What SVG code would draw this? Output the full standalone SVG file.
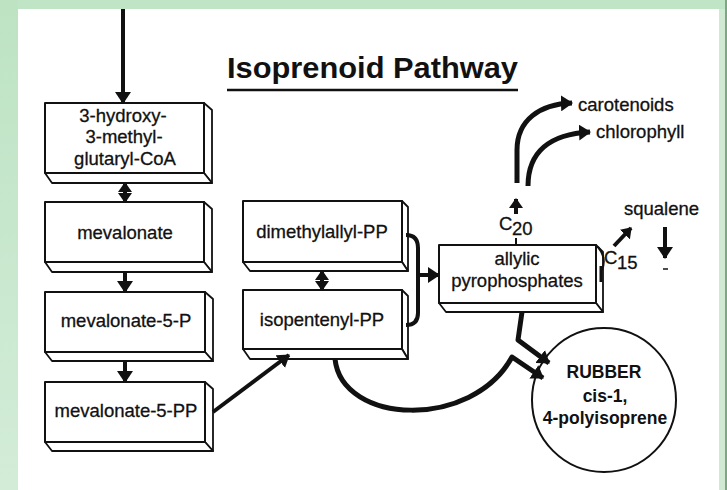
<svg xmlns="http://www.w3.org/2000/svg" width="727" height="490" viewBox="0 0 727 490">
<defs>
<linearGradient id="lg" x1="0" y1="0" x2="0" y2="1">
<stop offset="0" stop-color="#bde3c3"/>
<stop offset="1" stop-color="#d3ecd8"/>
</linearGradient>
<marker id="ah" viewBox="0 0 12 16" refX="11" refY="8" markerWidth="12" markerHeight="16" markerUnits="userSpaceOnUse" orient="auto-start-reverse">
<path d="M0,0 L12,8 L0,16 z" fill="#111"/>
</marker>
<marker id="as" viewBox="0 0 10 14" refX="9" refY="7" markerWidth="10" markerHeight="14" markerUnits="userSpaceOnUse" orient="auto-start-reverse">
<path d="M0,0 L10,7 L0,14 z" fill="#111"/>
</marker>
</defs>
<style>
.bf{fill:#fff;stroke:#111;stroke-width:2;stroke-linejoin:round}
.bs{fill:#fff;stroke:#111;stroke-width:1.8;stroke-linejoin:round}
.t{font-family:"Liberation Sans",Arial,sans-serif;font-size:18.5px;fill:#111;stroke:#111;stroke-width:0.3;text-anchor:middle}
.tl{font-family:"Liberation Sans",Arial,sans-serif;font-size:18.5px;fill:#111;stroke:#111;stroke-width:0.3}
.tb{font-family:"Liberation Sans",Arial,sans-serif;font-size:17.5px;font-weight:bold;fill:#111;text-anchor:middle}
.c{fill:none;stroke:#111;stroke-width:4;stroke-linecap:butt;stroke-linejoin:round}
.cw{fill:none;stroke:#111;stroke-width:5;stroke-linecap:butt;stroke-linejoin:round}
</style>
<!-- background frame -->
<rect x="0" y="0" width="727" height="490" fill="#c0e4c6"/>
<rect x="0" y="0" width="18" height="490" fill="url(#lg)"/>
<rect x="719" y="9" width="6" height="481" fill="#cfe9d3"/>
<rect x="725" y="0" width="2" height="490" fill="#7ea684"/>
<rect x="18" y="9" width="701" height="481" fill="#fff"/>

<!-- title -->
<g id="title">
<text x="227" y="78" font-family="'Liberation Sans',Arial,sans-serif" font-size="29" font-weight="bold" fill="#111" textLength="291" lengthAdjust="spacingAndGlyphs">Isoprenoid Pathway</text>
<line x1="227" y1="90" x2="518" y2="90" stroke="#111" stroke-width="2.5"/>
</g>

<!-- nodes -->
<g id="hmgcoa">
<polygon class="bs" points="204,103 212,110 212,183 204,173"/>
<polygon class="bs" points="45,173 204,173 212,183 52,183"/>
<rect class="bf" x="45" y="103" width="159" height="70"/>
<text class="t" x="123" y="122">3-hydroxy-</text>
<text class="t" x="124" y="143">3-methyl-</text>
<text class="t" x="125" y="165">glutaryl-CoA</text>
</g>
<g id="mevalonate">
<polygon class="bs" points="204,202 212,209 212,272 204,262"/>
<polygon class="bs" points="45,262 204,262 212,272 52,272"/>
<rect class="bf" x="45" y="202" width="159" height="60"/>
<text class="t" x="125" y="239">mevalonate</text>
</g>
<g id="mevalonate5p">
<polygon class="bs" points="205,292 213,299 213,361 205,352"/>
<polygon class="bs" points="45,352 205,352 213,361 52,361"/>
<rect class="bf" x="45" y="292" width="160" height="60"/>
<text class="t" x="126" y="327">mevalonate-5-P</text>
</g>
<g id="mevalonate5pp">
<polygon class="bs" points="205,382 213,389 213,451 205,442"/>
<polygon class="bs" points="45,442 205,442 213,451 52,451"/>
<rect class="bf" x="45" y="382" width="160" height="60"/>
<text class="t" x="126" y="417">mevalonate-5-PP</text>
</g>
<g id="dimethylallylpp">
<polygon class="bs" points="402,201 408,207 408,271 402,262"/>
<polygon class="bs" points="243,262 402,262 408,271 250,271"/>
<rect class="bf" x="243" y="201" width="159" height="61"/>
<text class="t" x="322" y="238">dimethylallyl-PP</text>
</g>
<g id="isopentenylpp">
<polygon class="bs" points="402,290 408,296 408,359 402,349"/>
<polygon class="bs" points="243,349 402,349 408,359 250,359"/>
<rect class="bf" x="243" y="290" width="159" height="59"/>
<text class="t" x="322" y="326">isopentenyl-PP</text>
</g>
<g id="allylic">
<polygon class="bs" points="596,245 603,252 603,312 596,303"/>
<polygon class="bs" points="439,303 596,303 603,312 446,312"/>
<rect class="bf" x="439" y="245" width="157" height="58"/>
<text class="t" x="517" y="265">allylic</text>
<text class="t" x="517" y="287">pyrophosphates</text>
</g>
<g id="rubber">
<circle cx="604" cy="400" r="72" fill="#fff" stroke="#111" stroke-width="2"/>
<text class="tb" x="604" y="378">RUBBER</text>
<text class="tb" x="605" y="402">cis-1,</text>
<text class="tb" x="605" y="424">4-polyisoprene</text>
</g>
<g id="labels">
<text class="tl" x="578" y="111">carotenoids</text>
<text class="tl" x="596" y="138">chlorophyll</text>
<text class="tl" x="624" y="215">squalene</text>
<text class="tl" x="499" y="230">C</text>
<text class="tl" x="512" y="235" font-size="14">20</text>
<text class="tl" x="604" y="264">C</text>
<text class="tl" x="617" y="269" font-size="14">15</text>
</g>

<!-- connectors -->
<g id="connectors">
<line class="c" x1="123" y1="9" x2="123" y2="103" marker-end="url(#ah)"/>
<line class="c" x1="125" y1="183" x2="125" y2="202" marker-start="url(#as)" marker-end="url(#as)"/>
<line class="c" x1="125" y1="272" x2="125" y2="292" marker-end="url(#ah)"/>
<line class="c" x1="125" y1="361" x2="125" y2="382" marker-end="url(#ah)"/>
<line class="c" x1="322" y1="271" x2="322" y2="290" marker-start="url(#as)" marker-end="url(#as)"/>
<line class="c" x1="213" y1="412" x2="289" y2="355" marker-end="url(#ah)"/>
<path class="c" d="M406,235 Q418,235 418,248 L418,313 Q418,325 406,325"/>
<line class="c" x1="418" y1="275" x2="439" y2="275" marker-end="url(#ah)"/>
<path class="cw" d="M522,312 L518,340 L549,363" marker-end="url(#ah)"/>
<path class="cw" d="M335,359 C342,425 472,430 512,357 L543,378" marker-end="url(#ah)"/>
<path class="cw" d="M517,183 L517,150 C517,120 540,104 572,103" marker-end="url(#ah)"/>
<path class="cw" d="M528,186 C528,152 550,134 590,132" marker-end="url(#ah)"/>
<line class="c" x1="516" y1="214" x2="516" y2="199" marker-end="url(#as)"/>
<line x1="516" y1="238" x2="516" y2="245" stroke="#111" stroke-width="2"/>
<path d="M598,247 Q607,258 602,270" fill="none" stroke="#111" stroke-width="2"/>
<line x1="601" y1="266" x2="601" y2="282" stroke="#111" stroke-width="3"/>
<line class="c" x1="614" y1="246" x2="631" y2="228" marker-end="url(#as)"/>
<line class="c" x1="665" y1="227" x2="665" y2="258" marker-end="url(#ah)"/>
<line x1="663" y1="269" x2="668" y2="269" stroke="#111" stroke-width="1.5"/>
</g>
</svg>
